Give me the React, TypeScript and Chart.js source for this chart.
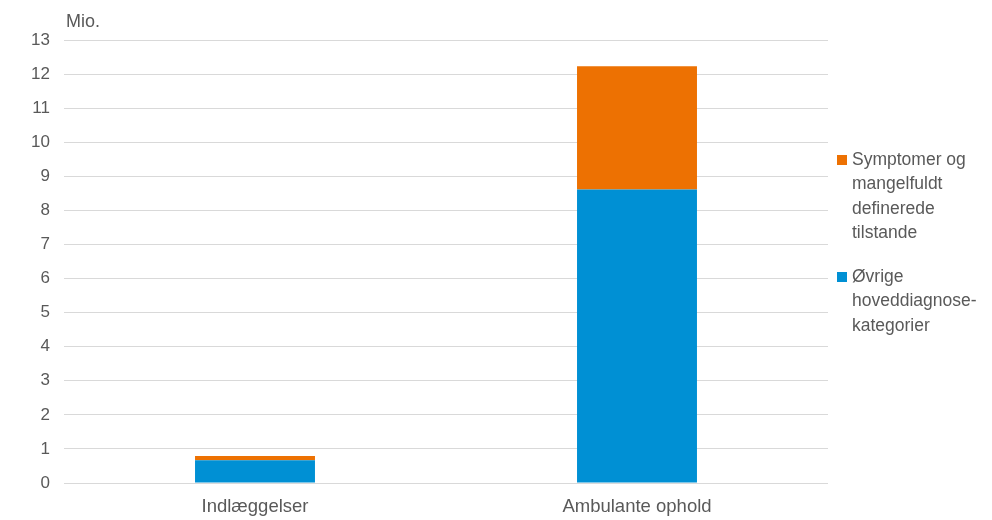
import React, { useEffect, useRef } from "react";
import { Chart, registerables } from "chart.js";

Chart.register(...registerables);

const categories = ["Indlæggelser", "Ambulante ophold"];
const ovrige = [0.67, 8.61];
const symptomer = [0.12, 3.62];
const yTicks = [0, 1, 2, 3, 4, 5, 6, 7, 8, 9, 10, 11, 12, 13];
const legendItems = [
  { lines: ["Symptomer og", "mangelfuldt", "definerede", "tilstande"], color: "#ED7102" },
  { lines: ["Øvrige", "hoveddiagnose-", "kategorier"], color: "#0090D4" },
];
const unitLabel = "Mio.";

const FONT = "'Liberation Sans', Arial, sans-serif";
const TEXT = "#595959";

export default function App() {
  const ref = useRef<HTMLCanvasElement | null>(null);
  useEffect(() => {
    document.body.style.margin = "0";
    const canvas = ref.current!;
    const extras = {
      id: "extras",
      afterDraw(chart: any) {
        const ctx = chart.ctx;
        const ca = chart.chartArea;
        ctx.save();
        ctx.font = `18px ${FONT}`;
        ctx.fillStyle = TEXT;
        ctx.textBaseline = "middle";
        ctx.textAlign = "left";
        ctx.fillText(unitLabel, ca.left + 2, 22);
        let y = 160;
        const lh = 24.5;
        ctx.font = `17.5px ${FONT}`;
        legendItems.forEach((it) => {
          ctx.fillStyle = it.color;
          ctx.fillRect(837, y - 5, 10, 10);
          ctx.fillStyle = TEXT;
          it.lines.forEach((l, i) => ctx.fillText(l, 852, y + i * lh));
          y += it.lines.length * lh + 19;
        });
        ctx.restore();
      },
    };
    const chart = new Chart(canvas, {
      type: "bar",
      data: {
        labels: categories,
        datasets: [
          { label: "Øvrige hoveddiagnose-kategorier", data: ovrige, backgroundColor: "#0090D4", borderWidth: 0 },
          { label: "Symptomer og mangelfuldt definerede tilstande", data: symptomer, backgroundColor: "#ED7102", borderWidth: 0 },
        ],
      },
      options: {
        animation: false,
        responsive: false,
        layout: { padding: { left: 0, top: 40, right: 164, bottom: 0 } },
        plugins: { legend: { display: false }, tooltip: { enabled: false } },
        datasets: { bar: { categoryPercentage: 1, barPercentage: 0.314 } },
        scales: {
          x: {
            stacked: true,
            grid: { display: false, drawTicks: false },
            border: { display: false },
            ticks: { padding: 13, color: TEXT, font: { family: FONT, size: 18.5 } },
            afterFit: (s: any) => { s.height = 37; },
          },
          y: {
            stacked: true,
            min: yTicks[0],
            max: yTicks[yTicks.length - 1],
            grid: { color: "#d9d9d9", drawTicks: false },
            border: { display: false },
            ticks: { stepSize: 1, padding: 14, color: TEXT, font: { family: FONT, size: 17 } },
            afterFit: (s: any) => { s.width = 64; },
          },
        },
      },
      plugins: [extras],
    });
    return () => chart.destroy();
  }, []);
  return (
    <div style={{ position: "fixed", left: 0, top: 0, width: 992, height: 520, background: "#fff" }}>
      <canvas ref={ref} width={992} height={520} style={{ width: 992, height: 520 }} />
    </div>
  );
}
